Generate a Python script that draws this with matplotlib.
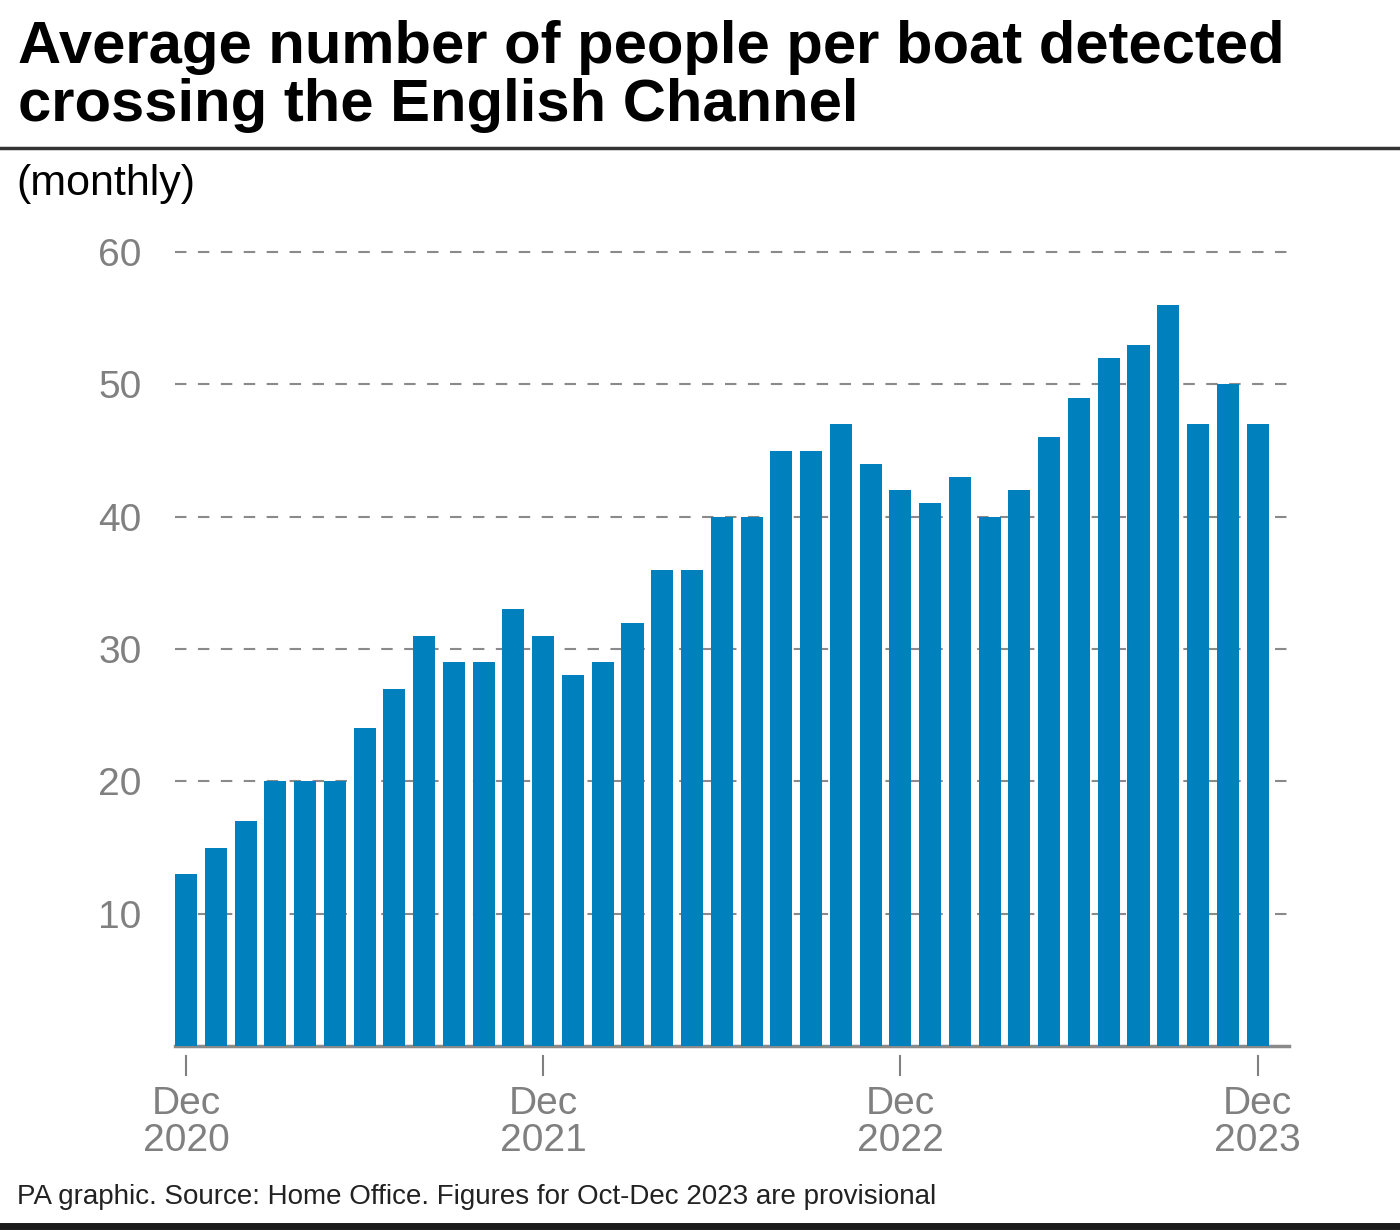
import numpy as np
import matplotlib.pyplot as plt
from matplotlib.lines import Line2D

plt.rcParams['font.family'] = ['Liberation Sans', 'DejaVu Sans']

# monthly average people per boat, Dec 2020 .. Dec 2023
values = [13, 15, 17, 20, 20, 20, 24, 27, 31, 29, 29, 33,
          31, 28, 29, 32, 36, 36, 40, 40, 45, 45, 47, 44,
          42, 41, 43, 40, 42, 46, 49, 52, 53, 56, 47, 50, 47]
tick_pos = [0, 12, 24, 36]
tick_labels = ['Dec\n2020', 'Dec\n2021', 'Dec\n2022', 'Dec\n2023']
yticks = [10, 20, 30, 40, 50, 60]

bar_col = '#0080bd'
grey = '#808080'

fig = plt.figure(figsize=(14, 12.3), dpi=100)
ax = fig.add_axes([0.125, 0.1496, 0.796, 0.6455])

x = np.arange(len(values))
ax.bar(x, values, width=0.74, color=bar_col, zorder=3)
ax.set_xlim(-0.37, 37.07)
ax.set_ylim(0, 60)

ax.set_yticks(yticks)
ax.set_yticklabels([str(v) for v in yticks], fontsize=28, color=grey)
ax.tick_params(axis='y', length=0, pad=24)
for v in yticks:
    ax.axhline(v, color='#8a8a8a', lw=1.5, dashes=(5.5, 5.5), zorder=1, clip_on=False)

for s in ['top', 'right', 'left']:
    ax.spines[s].set_visible(False)
ax.spines['bottom'].set_color('#8a8a8a')
ax.spines['bottom'].set_linewidth(2.5)

ax.set_xticks([])
trans = ax.get_xaxis_transform()
for p, lab in zip(tick_pos, tick_labels):
    ax.plot([p, p], [-0.0126, -0.0365], color=grey, lw=1.5, transform=trans, clip_on=False)
    ax.text(p, -0.05, lab, transform=trans, ha='center', va='top', fontsize=28,
            color=grey, linespacing=1.05)

fig.text(0.013, 0.984, 'Average number of people per boat detected\ncrossing the English Channel',
         fontsize=43, fontweight='bold', ha='left', va='top', linespacing=1.07)
fig.add_artist(Line2D([0, 1], [0.88, 0.88], color='#333333', lw=2.5))
fig.text(0.012, 0.850, '(monthly)', fontsize=31, ha='left', va='center')
fig.text(0.012, 0.027, 'PA graphic. Source: Home Office. Figures for Oct-Dec 2023 are provisional',
         fontsize=20, ha='left', va='center', color='#222222')
fig.add_artist(Line2D([0, 1], [0.0035, 0.0035], color='#1a1a1a', lw=5))

fig.savefig('out.png', dpi=100)
